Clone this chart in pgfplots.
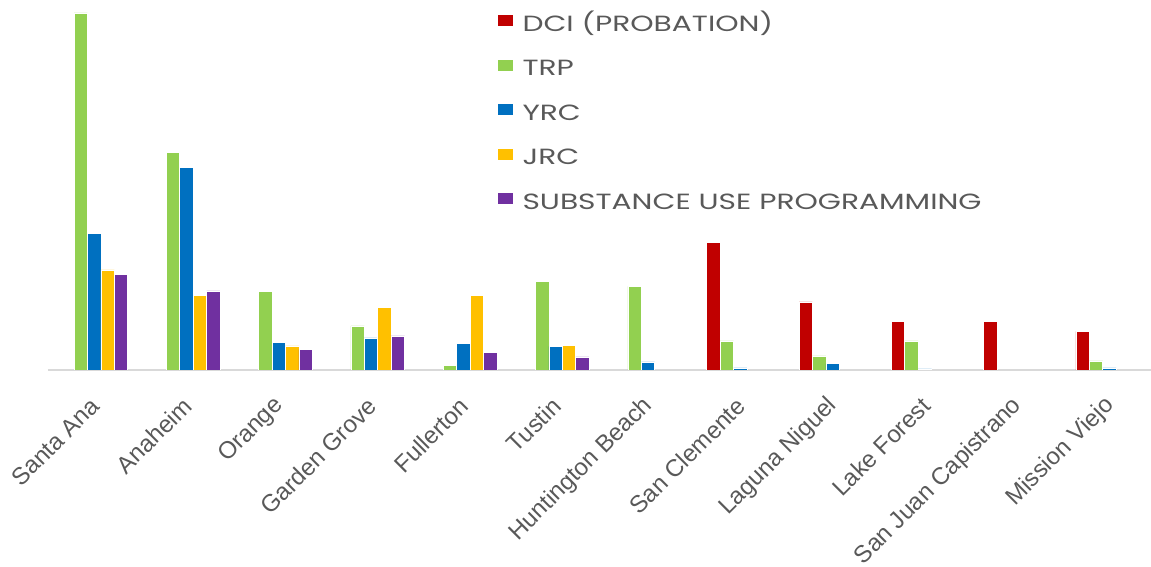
\documentclass[border=0pt]{standalone}
\usepackage{fontspec}
\setmainfont{Liberation Sans}
\newfontfamily\legfont[FakeStretch=1.35]{Poppins}
\usepackage{pgfplots}
\pgfplotsset{compat=1.18}
\definecolor{cDCI}{HTML}{C00000}
\definecolor{cTRP}{HTML}{92D050}
\definecolor{cYRC}{HTML}{0070C0}
\definecolor{cJRC}{HTML}{FFC000}
\definecolor{cSUP}{HTML}{7030A0}
\definecolor{txt}{HTML}{595959}
\definecolor{axisgray}{HTML}{D9D9D9}
\begin{document}
\begin{tikzpicture}[x=1pt,y=1pt]
\useasboundingbox (0,0) rectangle (1151,567);
\begin{axis}[at={(48pt,197pt)}, anchor=south west, scale only axis,
  width=1103pt, height=370pt,
  xmin=-0.5, xmax=11.45, ymin=0, ymax=370,
  ybar=0pt, bar width=13.4pt,
  axis y line=none, axis x line*=bottom,
  x axis line style={draw=axisgray, line width=2pt},
  xtick={0,1,2,3,4,5,6,7,8,9,10,11},
  xticklabels={Santa Ana,Anaheim,Orange,Garden Grove,Fullerton,Tustin,Huntington Beach,San Clemente,Laguna Niguel,Lake Forest,San Juan Capistrano,Mission Viejo},
  major tick length=0pt,
  xticklabel style={xshift=1pt, yshift=-32pt, rotate=45, anchor=east, font=\fontsize{24}{28}\selectfont, text=txt, inner sep=0pt},
  legend style={at={(axis description cs:0.408,1)}, anchor=north west, yshift=-15pt,
    draw=none, fill=none, inner sep=0pt, outer sep=0pt,
    font=\legfont\fontsize{22}{26}\selectfont, text=txt,
    row sep=23.3pt, column sep=9.5pt,
    nodes={inner sep=0pt, text height=15.5pt, text depth=5pt}},
  legend cell align=left,
  legend image code/.code={\fill[#1,draw=none] (0pt,0pt) rectangle (15pt,11pt);},
  every axis plot/.append style={draw=white, line width=0.6pt},
]
\addplot[fill=cDCI] coordinates {(7,127.3) (8,68) (9,48.7) (10,48.7) (11,38.7)};
\addlegendentry{DCI (PROBATION)}
\addplot[fill=cTRP] coordinates {(0,357) (1,217.7) (2,78.3) (3,44) (4,4.3) (5,88.7) (6,83.7) (7,29) (8,14) (9,29) (11,9)};
\addlegendentry{TRP}
\addplot[fill=cYRC] coordinates {(0,136.7) (1,202.7) (2,27.7) (3,32) (4,26.7) (5,23.7) (6,8) (7,2) (8,6.3) (9,1) (11,2)};
\addlegendentry{YRC}
\addplot[fill=cJRC] coordinates {(0,100) (1,74.7) (2,24) (3,62.3) (4,74.7) (5,24.7)};
\addlegendentry{JRC}
\addplot[fill=cSUP] coordinates {(0,95.7) (1,79) (2,20.7) (3,34) (4,17.7) (5,13)};
\addlegendentry{SUBSTANCE USE PROGRAMMING}
\end{axis}
\end{tikzpicture}
\end{document}
